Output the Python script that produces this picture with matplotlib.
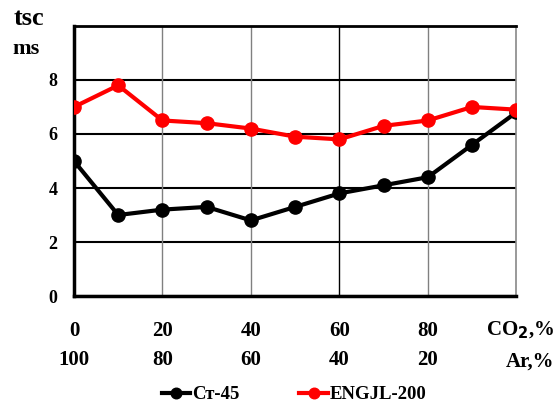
import matplotlib
matplotlib.use("Agg")
import matplotlib.pyplot as plt

plt.rcParams['font.family'] = ['Liberation Serif', 'DejaVu Serif']
plt.rcParams['font.weight'] = 'bold'

# CO2 share, %
co2 = [0, 10, 20, 30, 40, 50, 60, 70, 80, 90, 100]
st45 = [5.0, 3.0, 3.2, 3.3, 2.8, 3.3, 3.8, 4.1, 4.4, 5.6, 6.8]
engjl = [7.0, 7.8, 6.5, 6.4, 6.2, 5.9, 5.8, 6.3, 6.5, 7.0, 6.9]

xticks = [0, 20, 40, 60, 80]
xlabels = ['0\n100', '20\n80', '40\n60', '60\n40', '80\n20']
yticks = [0, 2, 4, 6, 8, 10]
ylabels = ['0', '2', '4', '6', '8', '']

fig = plt.figure(figsize=(5.55, 4.05), dpi=100)
ax = fig.add_axes([0.1333, 0.269, 0.797, 0.667])

ax.plot(co2, st45, color='black', lw=3, marker='o', ms=9.5, label='Ст-45', zorder=3)
ax.plot(co2, engjl, color='red', lw=3, marker='o', ms=9.5, label='ENGJL-200', zorder=4)

ax.set_xlim(0, 100)
ax.set_ylim(0, 10)
ax.set_xticks(xticks)
ax.set_xticklabels(xlabels, fontsize=15, fontweight='bold', linespacing=1.6)
ax.set_yticks(yticks)
ax.set_yticklabels(ylabels, fontsize=13, fontweight='bold')
ax.tick_params(axis='x', length=0, pad=18)
ax.tick_params(axis='y', length=0, pad=12)

# grid: vertical lines grey except 60, horizontal black (incl. top line at 10)
ax.grid(True, axis='y', color='black', lw=1.5)
for v in [20, 40, 80]:
    ax.axvline(v, color='#808080', lw=1, zorder=1)
ax.axvline(60, color='black', lw=1, zorder=1)
ax.set_axisbelow(True)

ax.spines['left'].set_linewidth(2.5)
ax.spines['bottom'].set_linewidth(2.5)
ax.spines['top'].set_color('black')
ax.spines['top'].set_linewidth(2)
ax.spines['right'].set_linewidth(1.2)
ax.spines['right'].set_color('#888888')

fig.text(0.998, 0.185, 'CO$_\\mathbf{2}$,%', ha='right', va='center', fontsize=15, fontweight='bold')
fig.text(0.998, 0.106, 'Ar,%', ha='right', va='center', fontsize=15, fontweight='bold')

fig.text(0.025, 0.955, 'tsc', ha='left', va='center', fontsize=19, fontweight='bold')
fig.text(0.022, 0.88, 'ms', ha='left', va='center', fontsize=16, fontweight='bold')

ax.legend(loc='center', bbox_to_anchor=(0.53, 0.025), bbox_transform=fig.transFigure,
          ncol=2, frameon=False, fontsize=13.5, handlelength=1.5, handletextpad=0.1,
          columnspacing=3.2, markerscale=0.8)

fig.savefig('out.png', dpi=100)
